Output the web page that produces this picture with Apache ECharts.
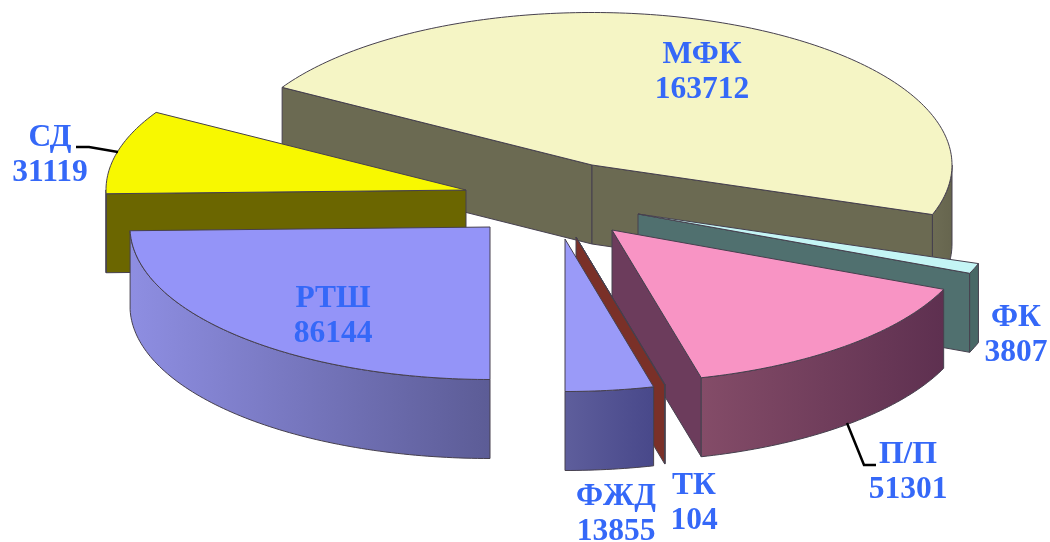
<!DOCTYPE html>
<html>
<head>
<meta charset="utf-8">
<style>html,body{margin:0;padding:0;background:#fff}#c{width:1050px;height:542px}</style>
<script src="https://cdn.jsdelivr.net/npm/echarts@6/dist/echarts.min.js"></script>
</head>
<body>
<div id="c"></div>
<script>
// Data (clockwise order around the pie)
var sliceNames  = ['МФК', 'ФК', 'П/П', 'ТК', 'ФЖД', 'РТШ', 'СД'];
var sliceValues = [163712, 3807, 51301, 104, 13855, 86144, 31119];

// Layout: the exploded position of each slice's apex
var apexX = [592, 638, 612, 576, 565, 490, 466];
var apexY = [165, 214, 230, 237, 239, 227, 190];
var paintOrder = [0, 1, 4, 5, 6, 3, 2];
var labelX = [702, 1016, 908, 694, 616, 333, 50];
var labelY = [72, 335, 472, 503, 514, 316, 155];
var leaders = [null, null, [[847,423],[864,465],[876,465]], null, null, null, [[76,147],[89,147],[118,152]]];

// Styles
var radiusX = 360, radiusY = 152.5, depth = 79;
var topColors = ['#f5f5c5', '#c4f5f5', '#f894c4', '#7a3028', '#9a9af8', '#9494f8', '#f8f800'];
var faceColors = ['#6b6a52', '#50706f', '#6c3c5c', '#7a3028', '#5a5a98', '#5e5e98', '#6b6600'];
var rimLeft = ['#6d6c54', '#486866', '#844c68', '#7a3028', '#5e5e9c', '#8e8ee2', '#6b6600'];
var rimRight = ['#66654e', '#486866', '#5e3050', '#7a3028', '#48488a', '#5c5c96', '#6b6600'];
var edge = '#46404e';
var labelColor = '#3568f8';

var total = sliceValues.reduce(function (a, b) { return a + b; }, 0);
var startDeg = 90 - 360 * (sliceValues.slice(0, 5).reduce(function (a, b) { return a + b; }, 0)) / total + 360;

function rimPoint(i, deg, dy) {
  var r = deg * Math.PI / 180;
  return [apexX[i] + radiusX * Math.cos(r), apexY[i] + radiusY * Math.sin(r) + dy];
}
function arcPoints(i, a, b, dy) {
  var pts = [], n = Math.max(2, Math.ceil(Math.abs(b - a)));
  for (var k = 0; k <= n; k++) pts.push(rimPoint(i, a + (b - a) * k / n, dy));
  return pts;
}
function poly(points, fill, z2) {
  return {
    type: 'polygon',
    shape: { points: points },
    z2: z2,
    style: { fill: fill, stroke: edge, lineWidth: 1, lineJoin: 'round' }
  };
}
function facesViewer(normalDeg) {
  return Math.sin(normalDeg * Math.PI / 180) > 0.02;
}
function renderSlice(params, api) {
  var i = params.dataIndex, value = api.value(0);
  var before = sliceValues.slice(0, i).reduce(function (a, b) { return a + b; }, 0);
  var a = startDeg + 360 * before / total;
  var b = a + 360 * value / total;
  var z = paintOrder[i] * 10;
  var apex = [apexX[i], apexY[i]];
  var apexLow = [apexX[i], apexY[i] + depth];
  var children = [];
  [[a, a - 90], [b, b + 90]].forEach(function (f) {
    if (!facesViewer(f[1])) return;
    var p = rimPoint(i, f[0], 0), q = rimPoint(i, f[0], depth);
    children.push(poly([apex, p, q, apexLow], faceColors[i], z));
  });
  [[0, 180], [360, 540]].forEach(function (range) {
    var s = Math.max(a, range[0]), e = Math.min(b, range[1]);
    if (e > s) {
      var upper = arcPoints(i, s, e, 0), lower = arcPoints(i, e, s, depth);
      children.push(poly(upper.concat(lower), {
        type: 'linear', x: 0, y: 0, x2: 1, y2: 0,
        colorStops: [
          { offset: 0, color: rimLeft[i] },
          { offset: 1, color: rimRight[i] }
        ]
      }, z + 1));
    }
  });
  children.push(poly([apex].concat(arcPoints(i, a, b, 0)), topColors[i], z + 2));
  return { type: 'group', children: children };
}
function renderLabel(params, api) {
  var i = params.dataIndex;
  var children = [{
    type: 'text', x: labelX[i], y: labelY[i], z2: 200,
    style: {
      text: sliceNames[i] + '\n' + api.value(0),
      fill: labelColor,
      fontFamily: '"Liberation Serif", serif',
      fontWeight: 'bold',
      fontSize: 31.5,
      lineHeight: 35,
      align: 'center',
      verticalAlign: 'middle'
    }
  }];
  if (leaders[i]) {
    children.push({
      type: 'polyline', z2: 199,
      shape: { points: leaders[i] },
      style: { fill: null, stroke: '#000', lineWidth: 2.5 }
    });
  }
  return { type: 'group', children: children };
}
var rows = sliceValues.map(function (v, i) { return { name: sliceNames[i], value: [v] }; });
var chart = echarts.init(document.getElementById('c'), null, { renderer: 'canvas' });
chart.setOption({
  animation: false,
  backgroundColor: '#ffffff',
  series: [
    { type: 'custom', coordinateSystem: 'none', renderItem: renderSlice, data: rows, z: 1, silent: true },
    { type: 'custom', coordinateSystem: 'none', renderItem: renderLabel, data: rows, z: 2, silent: true }
  ]
});
</script>
</body>
</html>
